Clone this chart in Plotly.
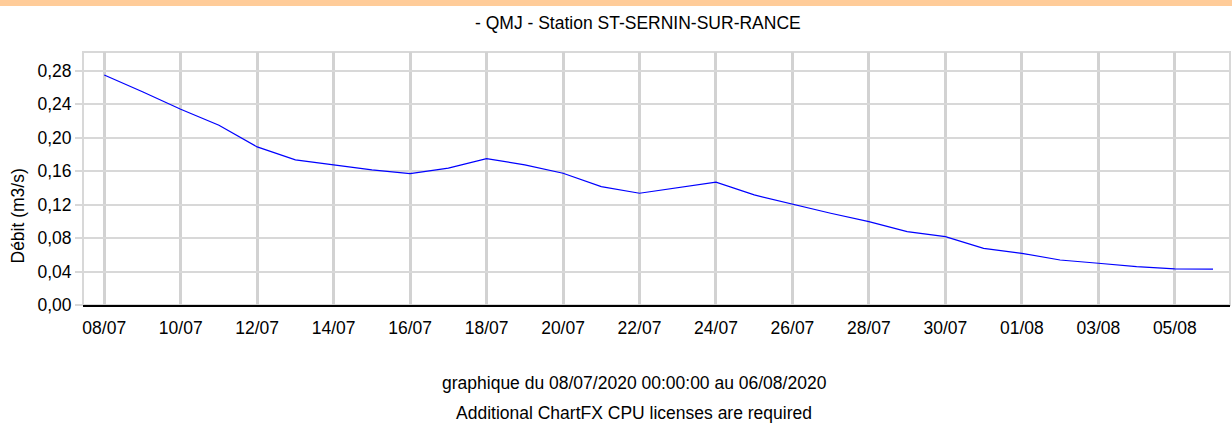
import plotly.graph_objects as go
import pandas as pd

dates = pd.date_range("2020-07-08", "2020-08-06", freq="D")
debit = [0.275, 0.255, 0.234, 0.215, 0.189, 0.1735, 0.1675, 0.1615, 0.157, 0.1636,
         0.175, 0.1675, 0.1575, 0.1416, 0.1336, 0.1404, 0.1468, 0.1316, 0.1205, 0.1097,
         0.0997, 0.0877, 0.0817, 0.0678, 0.0618, 0.0538, 0.0499, 0.0458, 0.0431, 0.043]
y_ticks = [0, 0.04, 0.08, 0.12, 0.16, 0.20, 0.24, 0.28]

title_text = "- QMJ - Station ST-SERNIN-SUR-RANCE"
y_title = "Débit (m3/s)"
footer1 = "graphique du 08/07/2020 00:00:00 au 06/08/2020"
footer2 = "Additional ChartFX CPU licenses are required"

font = "Liberation Sans, Arial, sans-serif"
fs = 17.5

L, T, B, W, H = 83, 52, 305, 1232, 426
ph = B - T
pw = W - L - 2

def py(y):
    return (B - y) / ph

def px(x):
    return (x - L) / pw

fig = go.Figure()
fig.add_trace(go.Scatter(x=dates, y=debit, mode="lines",
                         line=dict(color="#0000FF", width=1.2), showlegend=False))

fig.update_layout(
    width=W, height=H,
    margin=dict(l=L, r=2, t=T, b=H - B, pad=0),
    paper_bgcolor="white", plot_bgcolor="white",
    separators=",.",
    font=dict(family=font, size=fs, color="#000000"),
    xaxis=dict(
        type="date",
        range=["2020-07-07 10:40", "2020-08-06 10:40"],
        tick0="2020-07-08", dtick=2 * 86400000, tickformat="%d/%m",
        showgrid=True, gridcolor="#d2d2d2", gridwidth=3,
        showline=True, linecolor="#000000", linewidth=2,
        ticks="outside", ticklen=6, tickcolor="rgba(0,0,0,0)", zeroline=False,
        tickfont=dict(family=font, size=fs, color="#000000"),
    ),
    yaxis=dict(
        range=[0, 0.3025],
        tickvals=y_ticks, tickformat=".2f",
        showgrid=True, gridcolor="#d8d8d8", gridwidth=2,
        showline=False, zeroline=False,
        ticks="outside", ticklen=7, tickwidth=2, tickcolor="#d8d8d8",
        tickfont=dict(family=font, size=fs, color="#000000"),
    ),
    shapes=[
        dict(type="rect", xref="paper", yref="paper", x0=-0.1, x1=1.1,
             y0=py(6), y1=py(-5),
             fillcolor="#FFCC99", line=dict(width=0), layer="below"),
        dict(type="rect", xref="paper", yref="paper", x0=0, x1=1, y0=0, y1=1,
             line=dict(color="#d8d8d8", width=2), layer="below"),
    ],
    annotations=[
        dict(text=title_text, xref="paper", yref="paper", x=px(637.5), y=py(23),
             xanchor="center", yanchor="middle", showarrow=False,
             font=dict(family=font, size=fs)),
        dict(text=y_title, xref="paper", yref="paper", x=px(17.5), y=py(216),
             xanchor="center", yanchor="middle", showarrow=False, textangle=-90,
             font=dict(family=font, size=fs)),
        dict(text=footer1, xref="paper", yref="paper", x=px(634), y=py(383),
             xanchor="center", yanchor="middle", showarrow=False,
             font=dict(family=font, size=fs)),
        dict(text=footer2, xref="paper", yref="paper", x=px(634), y=py(413),
             xanchor="center", yanchor="middle", showarrow=False,
             font=dict(family=font, size=fs)),
    ],
)

fig.write_html("out.html",
               config={"displayModeBar": False},
               post_script="document.body.style.margin='0';document.body.style.padding='0';"
                           "document.body.style.overflow='hidden';")
